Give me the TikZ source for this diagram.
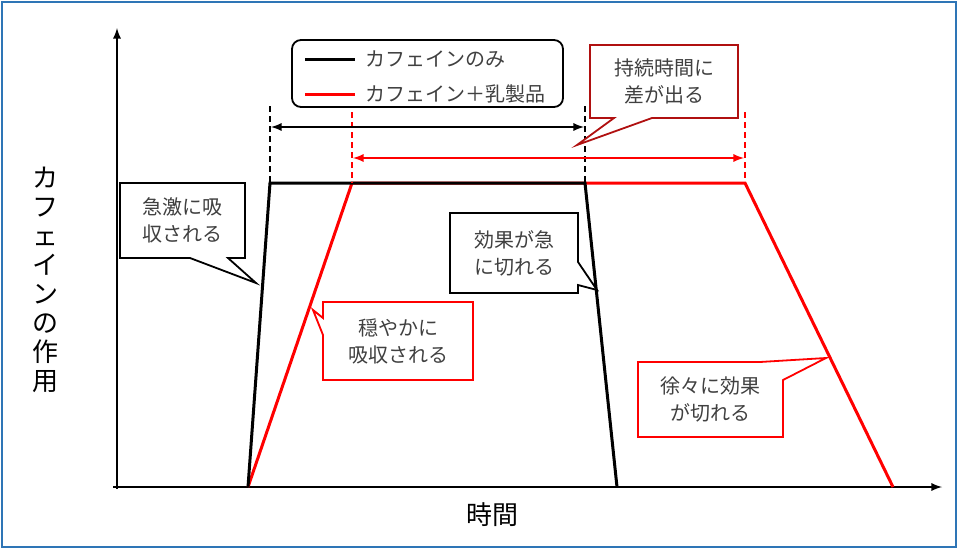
\documentclass[tikz,border=0pt]{standalone}
\usepackage{fontspec}
\setmainfont{Noto Sans CJK JP}
\begin{document}
\begin{tikzpicture}[x=1pt,y=-1pt,
  ln/.style={line width=3pt},
  box/.style={draw,line width=1.8pt,fill=white},
  dsh/.style={line width=1.6pt,dash pattern=on 6pt off 4pt},
  txt/.style={font=\fontsize{20}{27}\selectfont,align=center,text=black!75},
  red/.style={draw=red}]
\definecolor{fr}{HTML}{2E75B6}
\definecolor{dr}{HTML}{B01010}
\useasboundingbox (0,0) rectangle (958,549);
\draw[fr,line width=2.5pt] (2,2) rectangle (956,547);
% axes
\draw[line width=2.6pt,-latex] (113,487) -- (942,487);
\draw[line width=2.6pt,-latex] (117,489) -- (117,28);
\node[txt,text=black,font=\fontsize{26}{29}\selectfont,align=center] (ylab) at (45,280) {カ\\フ\\ェ\\イ\\ン\\の\\作\\用};
\node[txt,text=black,font=\fontsize{26}{29}\selectfont] (xlab) at (492,515) {時間};
% curves
\coordinate (b0) at (248,487); \coordinate (b1) at (270,183); \coordinate (b2) at (585,183); \coordinate (b3) at (617,487);
\coordinate (r1) at (352,183); \coordinate (r2) at (745,183); \coordinate (r3) at (893,487);
\draw[ln,red] (b0) -- (r1) -- (r2) -- (r3);
\draw[ln] (b0) -- (b1) -- (b2) -- (b3);
% dashed
\draw[dsh] (270,106) -- (b1);
\draw[dsh] (585,106) -- (b2);
\draw[dsh,red] (352,112) -- (r1);
\draw[dsh,red] (745,112) -- (r2);
\draw[line width=2.6pt,-latex,shorten >=0pt] (427,127) -- (271,127);
\draw[line width=2.6pt,-latex] (427,127) -- (584,127);
\draw[line width=2.6pt,-latex,red] (548,158) -- (353,158);
\draw[line width=2.6pt,-latex,red] (548,158) -- (744,158);
% legend
\draw[line width=1.8pt,rounded corners=9pt] (292,40) rectangle (563,107);
\draw[ln] (305,59) -- (355,59);
\draw[ln,red] (305,94) -- (355,94);
\node[txt,anchor=west] (l1) at (362,59) {カフェインのみ};
\node[txt,anchor=west] (l2) at (362,94) {カフェイン＋乳製品};
% callouts
\draw[box,draw=dr] (590,45) -- (738,45) -- (738,118) -- (652,118) -- (577,145) -- (614,118) -- (590,118) -- cycle;
\node[txt] (c1) at (664,81) {持続時間に\\差が出る};
\draw[box] (120,183) -- (245,183) -- (245,258) -- (228,258) -- (256,283) -- (190,258) -- (120,258) -- cycle;
\node[txt] (c2) at (182,220) {急激に吸\\収される};
\draw[box] (450,213) -- (578,213) -- (578,262) -- (597,290) -- (578,285) -- (578,293) -- (450,293) -- cycle;
\node[txt] (c3) at (514,253) {効果が急\\に切れる};
\draw[box,draw=red] (323,302) -- (473,302) -- (473,380) -- (323,380) -- (323,335) -- (313,310) -- (323,318) -- cycle;
\node[txt] (c4) at (398,341) {穏やかに\\吸収される};
\draw[box,draw=red] (638,362) -- (760,362) -- (826,358) -- (783,380) -- (783,437) -- (638,437) -- cycle;
\node[txt] (c5) at (710,399) {徐々に効果\\が切れる};
\end{tikzpicture}
\end{document}
